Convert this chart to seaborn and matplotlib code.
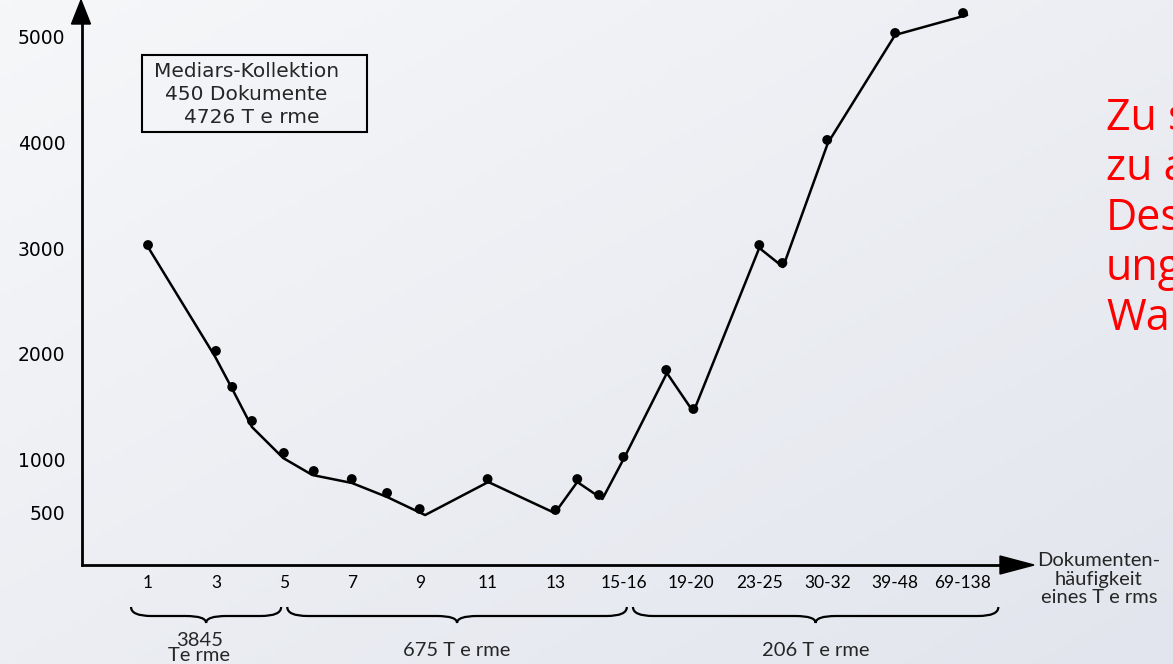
import numpy as np
import seaborn as sns
from matplotlib import pyplot as plt
from matplotlib.patches import Rectangle, Polygon, PathPatch
from matplotlib.path import Path
from matplotlib.colors import LinearSegmentedColormap
from matplotlib.transforms import blended_transform_factory

# x categories: document frequency of a term
freq_labels = ["1", "3", "5", "7", "9", "11", "13", "15-16",
               "19-20", "23-25", "30-32", "39-48", "69-138"]
y_ticks = [500, 1000, 2000, 3000, 4000, 5000]

# measured points (position on category axis, value)
dot_x = [0, 1, 1.24, 1.53, 2, 2.44, 3, 3.52, 4, 5, 6, 6.32, 6.64, 7,
         7.63, 8.03, 9, 9.34, 10, 11, 12]
dot_y = [3030, 2027, 1686, 1364, 1061, 890, 814, 682, 530, 814, 521, 814,
         663, 1023, 1847, 1477, 3030, 2860, 4025, 5038, 5227]

# hand drawn connecting line, sits a little under the dots
line_x = [0, 0.99, 1.24, 1.53, 1.99, 2.42, 3, 3.52, 4.08, 5.01, 5.99, 6.32,
          6.69, 7.01, 7.64, 8.03, 9, 9.35, 10.01, 11, 12.06]
line_y = [3011, 1970, 1667, 1307, 1013, 852, 777, 644, 473, 786, 492, 786,
          625, 1013, 1818, 1449, 3002, 2822, 3996, 5019, 5208]

# term groups under the axis
group_labels = ["3845\nTe rme", "675 T e rme", "206 T e rme"]
group_start = [-0.25, 2.05, 7.14]
group_end = [1.96, 7.05, 12.52]

box_lines = ["Mediars-Kollektion", "450 Dokumente", "4726 T e rme"]
red_lines = ["Zu s", "zu a", "Des", "ung", "War"]

W, H = 1173, 664
def fx(px):
    return px / W
def fy(py):
    return 1 - py / H

sns.set_theme(style="white")
plt.rcParams['font.family'] = ['DejaVu Sans']

fig = plt.figure(figsize=(W / 100, H / 100), dpi=100)

# light gradient background
bg = fig.add_axes([0, 0, 1, 1], zorder=-10)
gx, gy = np.meshgrid(np.linspace(0, 1, 200), np.linspace(0, 1, 120))
cmap = LinearSegmentedColormap.from_list("bg", ["#f6f7f9", "#e2e5ed"])
bg.imshow((gx + gy) / 2, cmap=cmap, aspect='auto', extent=[0, 1, 0, 1], origin='upper')
bg.axis('off')

ax = fig.add_axes([fx(82), fy(565), fx(1033) - fx(82), fy(0) - fy(565)])
ax.patch.set_alpha(0)

sns.lineplot(x=line_x, y=line_y, sort=False, estimator=None, color='black', lw=1.8, ax=ax)
sns.scatterplot(x=dot_x, y=dot_y, color='black', s=50, edgecolor='none', ax=ax, zorder=3)

ax.set_xlim(-0.972, 13.03)
ax.set_ylim(0, 5350)
ax.set_xticks(range(len(freq_labels)), freq_labels, fontfamily='Lato', fontsize=12.5)
ax.set_yticks(y_ticks, [str(v) for v in y_ticks], fontsize=13.5)
ax.tick_params(axis='x', direction='in', length=6, width=1.5, pad=7, colors='black')
ax.tick_params(axis='y', direction='in', length=7, width=1.5, pad=12, colors='black')
for s in ['top', 'right']:
    ax.spines[s].set_visible(False)
for s in ['left', 'bottom']:
    ax.spines[s].set_linewidth(2)
    ax.spines[s].set_color('black')
ax.spines['left'].set_bounds(0, 5140)
ax.spines['bottom'].set_bounds(-0.972, 12.6)

# arrow heads
fig.add_artist(Polygon([(fx(81), fy(0)), (fx(71.5), fy(24)), (fx(90.5), fy(24))],
                       closed=True, transform=fig.transFigure, color='black'))
fig.add_artist(Polygon([(fx(1034), fy(565)), (fx(1000), fy(556)), (fx(1000), fy(574))],
                       closed=True, transform=fig.transFigure, color='black'))

# braces under the x axis
trans = blended_transform_factory(ax.transData, fig.transFigure)
top, mid, tip = fy(607), fy(616), fy(623)
r = 0.3
for x0, x1, lab in zip(group_start, group_end, group_labels):
    xm = (x0 + x1) / 2
    verts = [(x0, top), (x0, mid), (x0 + r, mid), (xm - r, mid),
             (xm, mid), (xm, tip), (xm, mid), (xm + r, mid),
             (x1 - r, mid), (x1, mid), (x1, top)]
    codes = [Path.MOVETO, Path.CURVE3, Path.CURVE3, Path.LINETO,
             Path.CURVE3, Path.CURVE3, Path.CURVE3, Path.CURVE3,
             Path.LINETO, Path.CURVE3, Path.CURVE3]
    ax.add_artist(PathPatch(Path(verts, codes), fill=False, lw=1.6, ec='black',
                            transform=trans, clip_on=False))
    if "\n" in lab:
        ax.text(xm - 0.1, fy(632), lab, transform=trans, ha='center', va='top',
                fontfamily='Lato', fontsize=14.5, linespacing=0.85, clip_on=False)
    else:
        ax.text(xm, fy(651), lab, transform=trans, ha='center', va='center',
                fontfamily='Lato', fontsize=14.5, clip_on=False)

fig.text(fx(1099), fy(579), "Dokumenten-\nhäufigkeit\neines T e rms", ha='center', va='center',
         fontfamily='Lato', fontsize=14.5, linespacing=1.1)

# info box
fig.add_artist(Rectangle((fx(142), fy(132)), fx(367) - fx(142), fy(55) - fy(132),
                         fill=False, lw=1.5, ec='black', transform=fig.transFigure))
for line, cx, by in zip(box_lines, [247, 246, 252], [77, 100, 123]):
    fig.text(fx(cx), fy(by), line, ha='center', va='baseline', fontsize=14.5)

# red note, cut by the right edge as in the slide
for i, line in enumerate(red_lines):
    fig.text(fx(1106), fy(130 + 50 * i), line, ha='left', va='baseline',
             fontfamily='Open Sans', fontsize=31, color='#ff0000')

fig.savefig('out.png', dpi=100)
